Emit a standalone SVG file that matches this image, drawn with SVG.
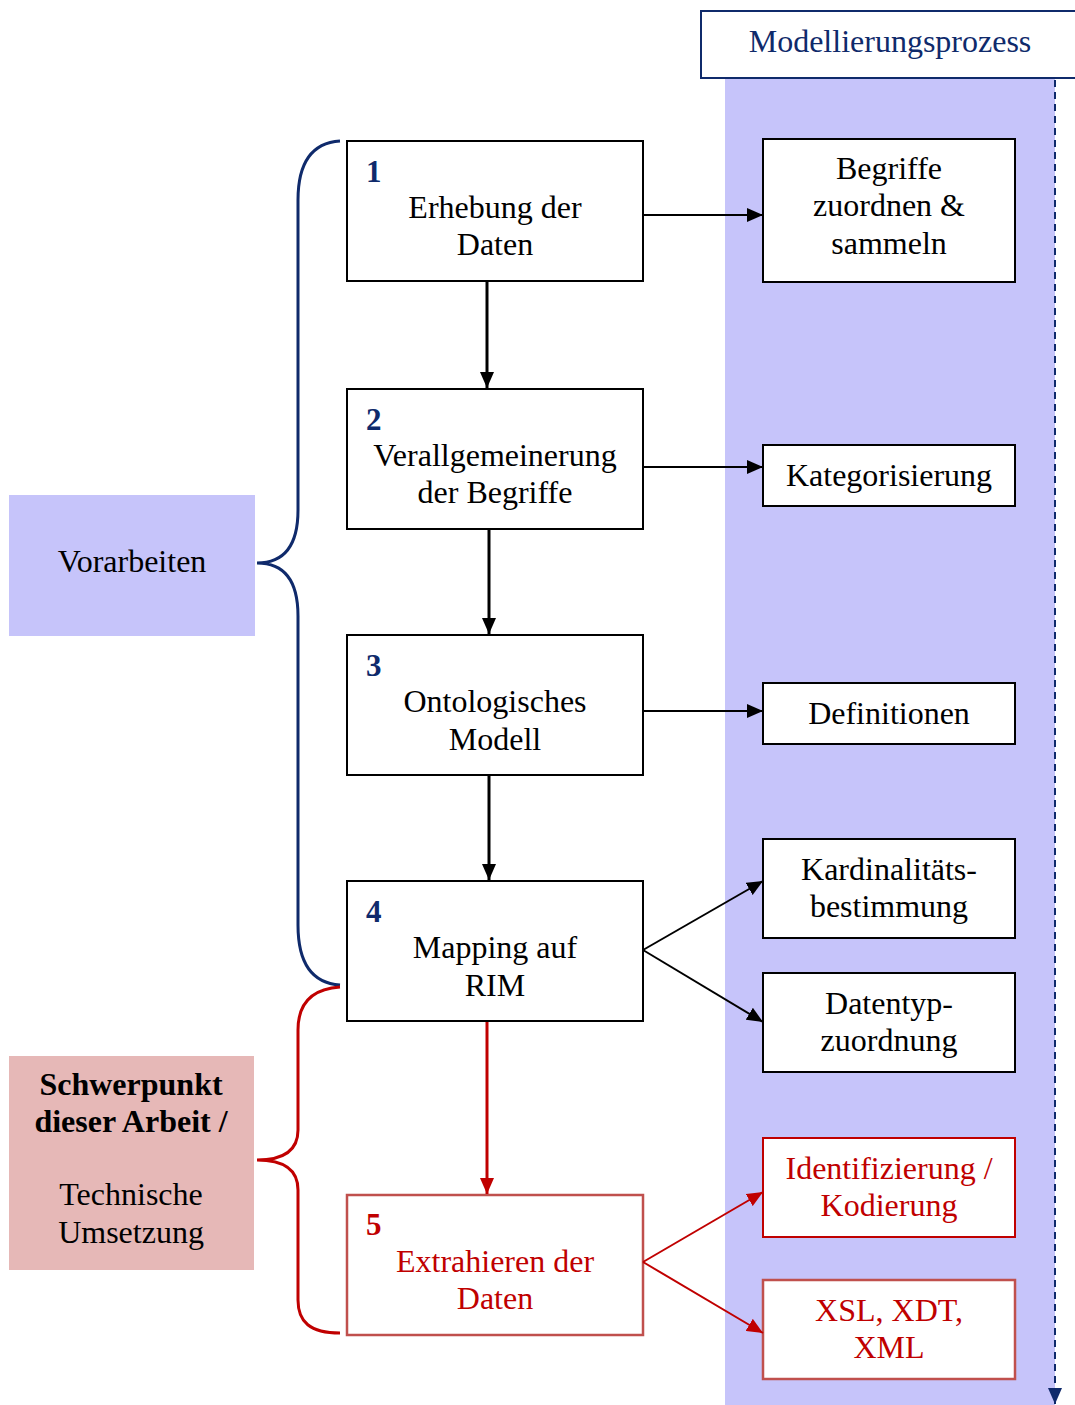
<svg xmlns="http://www.w3.org/2000/svg" width="1075" height="1405" viewBox="0 0 1075 1405">
  <style>
    text { font-family: "Liberation Serif", "Times New Roman", serif; font-size: 32px; text-anchor: middle; fill: #000; }
    .num { font-weight: bold; text-anchor: start; fill: #0F2A6B; font-size: 31px; }
    .numr { font-weight: bold; text-anchor: start; fill: #C00000; font-size: 31px; }
    .red { fill: #C00000; }
    .bold { font-weight: bold; }
    .box { fill: #fff; stroke: #000; stroke-width: 2; }
    .rbox { fill: #fff; stroke: #C00000; stroke-width: 2; }
    .rbox2 { fill: #fff; stroke: #C0504D; stroke-width: 2.5; }
    .conn { stroke: #000; stroke-width: 2; fill: none; }
    .connv { stroke: #000; stroke-width: 3; fill: none; }
    .rconn { stroke: #C00000; stroke-width: 2; fill: none; }
    .rconnv { stroke: #C00000; stroke-width: 3; fill: none; }
  </style>
  <defs>
    <marker id="ahl" markerWidth="16" markerHeight="14" refX="16" refY="7" orient="auto" markerUnits="userSpaceOnUse" viewBox="0 0 16 14">
      <path d="M0,0 L16,7 L0,14 z" fill="#000"/>
    </marker>
    <marker id="ahr" markerWidth="16" markerHeight="14" refX="16" refY="7" orient="auto" markerUnits="userSpaceOnUse" viewBox="0 0 16 14">
      <path d="M0,0 L16,7 L0,14 z" fill="#C00000"/>
    </marker>
    <marker id="ahn" markerWidth="16" markerHeight="14" refX="16" refY="7" orient="auto" markerUnits="userSpaceOnUse" viewBox="0 0 16 14">
      <path d="M0,0 L16,7 L0,14 z" fill="#0F2A6B"/>
    </marker>
  </defs>

  <!-- process band -->
  <rect x="725" y="78" width="330" height="1327" fill="#C6C4FA"/>
  <line x1="1055" y1="80" x2="1055" y2="1404" stroke="#0F2A6B" stroke-width="2" stroke-dasharray="7,5" marker-end="url(#ahn)"/>

  <g id="header">
    <rect x="701" y="11" width="380" height="67" fill="#fff" stroke="#0F2A6B" stroke-width="2"/>
    <text x="890" y="52" style="fill:#0F2A6B">Modellierungsprozess</text>
  </g>

  <!-- braces -->
  <g id="braces">
    <path d="M340,141 C310,143 298,165 298,200 L298,510 C298,545 285,563 257,563 C285,563 298,581 298,616 L298,925 C298,960 310,983 340,985" fill="none" stroke="#0F2A6B" stroke-width="3"/>
    <path d="M340,987 C310,989 298,1005 298,1030 L298,1130 C298,1150 285,1160 257,1160 C285,1160 298,1170 298,1190 L298,1300 C298,1322 310,1333 340,1333" fill="none" stroke="#C00000" stroke-width="3"/>
  </g>

  <g id="vorarbeiten">
    <rect x="9" y="495" width="246" height="141" fill="#C6C4FA"/>
    <text x="132" y="572">Vorarbeiten</text>
  </g>

  <g id="schwerpunkt">
    <rect x="9" y="1056" width="245" height="214" fill="#E6B8B7"/>
    <text x="131" y="1095" class="bold">Schwerpunkt</text>
    <text x="131" y="1132" class="bold">dieser Arbeit /</text>
    <text x="131" y="1205">Technische</text>
    <text x="131" y="1243">Umsetzung</text>
  </g>

  <!-- main steps -->
  <g id="step1">
    <rect class="box" x="347" y="141" width="296" height="140"/>
    <text class="num" x="366" y="182">1</text>
    <text x="495" y="218">Erhebung der</text>
    <text x="495" y="255">Daten</text>
  </g>
  <g id="step2">
    <rect class="box" x="347" y="389" width="296" height="140"/>
    <text class="num" x="366" y="430">2</text>
    <text x="495" y="466">Verallgemeinerung</text>
    <text x="495" y="503">der Begriffe</text>
  </g>
  <g id="step3">
    <rect class="box" x="347" y="635" width="296" height="140"/>
    <text class="num" x="366" y="676">3</text>
    <text x="495" y="712">Ontologisches</text>
    <text x="495" y="750">Modell</text>
  </g>
  <g id="step4">
    <rect class="box" x="347" y="881" width="296" height="140"/>
    <text class="num" x="366" y="922">4</text>
    <text x="495" y="958">Mapping auf</text>
    <text x="495" y="996">RIM</text>
  </g>
  <g id="step5">
    <rect class="rbox2" x="347" y="1195" width="296" height="140"/>
    <text class="numr" x="366" y="1235">5</text>
    <text x="495" y="1272" class="red">Extrahieren der</text>
    <text x="495" y="1309" class="red">Daten</text>
  </g>

  <!-- process activities -->
  <g id="begriffe">
    <rect class="box" x="763" y="139" width="252" height="143"/>
    <text x="889" y="179">Begriffe</text>
    <text x="889" y="216">zuordnen &amp;</text>
    <text x="889" y="254">sammeln</text>
  </g>
  <g id="kategorisierung">
    <rect class="box" x="763" y="445" width="252" height="61"/>
    <text x="889" y="486">Kategorisierung</text>
  </g>
  <g id="definitionen">
    <rect class="box" x="763" y="683" width="252" height="61"/>
    <text x="889" y="724">Definitionen</text>
  </g>
  <g id="kardinalitaet">
    <rect class="box" x="763" y="839" width="252" height="99"/>
    <text x="889" y="880">Kardinalitäts-</text>
    <text x="889" y="917">bestimmung</text>
  </g>
  <g id="datentyp">
    <rect class="box" x="763" y="973" width="252" height="99"/>
    <text x="889" y="1014">Datentyp-</text>
    <text x="889" y="1051">zuordnung</text>
  </g>
  <g id="identifizierung">
    <rect class="rbox" x="763" y="1138" width="252" height="99"/>
    <text x="889" y="1179" class="red">Identifizierung /</text>
    <text x="889" y="1216" class="red">Kodierung</text>
  </g>
  <g id="xsl">
    <rect class="rbox2" x="763" y="1280" width="252" height="99"/>
    <text x="889" y="1321" class="red">XSL, XDT,</text>
    <text x="889" y="1358" class="red">XML</text>
  </g>

  <!-- connectors -->
  <g id="connectors">
    <line class="connv" x1="487" y1="282" x2="487" y2="388" marker-end="url(#ahl)"/>
    <line class="connv" x1="489" y1="530" x2="489" y2="634" marker-end="url(#ahl)"/>
    <line class="connv" x1="489" y1="776" x2="489" y2="880" marker-end="url(#ahl)"/>
    <line class="rconnv" x1="487" y1="1022" x2="487" y2="1194" marker-end="url(#ahr)"/>

    <line class="conn" x1="643" y1="215" x2="763" y2="215" marker-end="url(#ahl)"/>
    <line class="conn" x1="643" y1="467" x2="763" y2="467" marker-end="url(#ahl)"/>
    <line class="conn" x1="643" y1="711" x2="763" y2="711" marker-end="url(#ahl)"/>
    <line class="conn" x1="643" y1="950" x2="763" y2="881" marker-end="url(#ahl)"/>
    <line class="conn" x1="643" y1="950" x2="763" y2="1022" marker-end="url(#ahl)"/>
    <line class="rconn" x1="643" y1="1262" x2="763" y2="1192" marker-end="url(#ahr)"/>
    <line class="rconn" x1="643" y1="1262" x2="763" y2="1333" marker-end="url(#ahr)"/>
  </g>
</svg>
